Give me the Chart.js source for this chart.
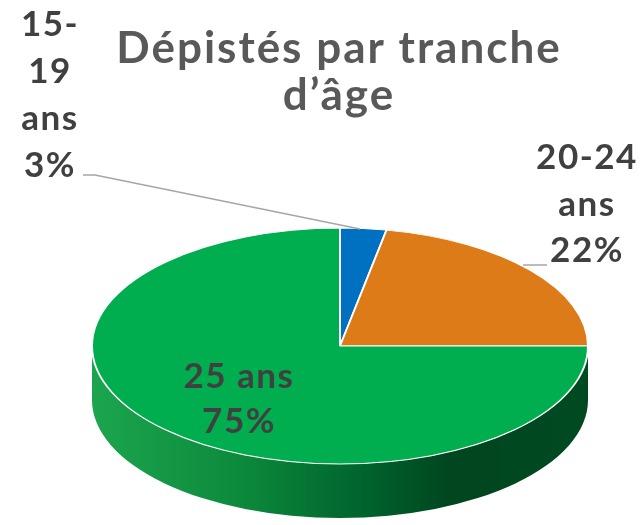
<!DOCTYPE html>
<html>
<head>
<meta charset="utf-8">
<script src="https://cdn.jsdelivr.net/npm/chart.js@4.4.1/dist/chart.umd.min.js"></script>
<style>
  html, body { margin: 0; padding: 0; background: #fff; }
  #wrap { width: 643px; height: 525px; position: relative; }
</style>
</head>
<body>
<div id="wrap"><canvas id="pie_chart" width="643" height="525"></canvas></div>
<script>
// data
var categories = ['15-19 ans', '20-24 ans', '25 ans'];
var values = [3, 22, 75];
var labelLines = [['15-', '19', 'ans'], ['20-24', 'ans'], ['25 ans']];
var sliceColors = ['#0070C0', '#DE7B19', '#00AD4F'];
var titleLines = ['Dépistés par tranche', 'd\u2019âge'];

// geometry of the tilted pie (screen px)
var PIE = { cx: 340, cy: 346, rx: 248, ry: 118, depth: 54 };

// where each label block sits (center x, first baseline y, line step)
var labelPos = [
    { x: 50, y: 36, step: 47 },
    { x: 587, y: 169, step: 46.5 },
    { x: 239, y: 388, step: 45 }
];

/*
 * Plugin that squashes the pie into an ellipse, draws the side wall
 * and writes the labels outside the slices
 */
var tiltPlugin = {
    id: 'tilt',
    beforeDatasetsDraw: function(chart) {
        const ctx = chart.ctx;
        const arc = chart.getDatasetMeta(0).data[0];
        // side wall
        ctx.save();
        const grad = ctx.createLinearGradient(PIE.cx - PIE.rx, 0, PIE.cx + PIE.rx, 0);
        grad.addColorStop(0, '#1ca54e');
        grad.addColorStop(0.3, '#0c8a3c');
        grad.addColorStop(0.55, '#00632d');
        grad.addColorStop(0.72, '#00461f');
        grad.addColorStop(1, '#004a21');
        ctx.beginPath();
        ctx.ellipse(PIE.cx, PIE.cy, PIE.rx, PIE.ry, 0, 0, Math.PI, false);
        ctx.ellipse(PIE.cx, PIE.cy + PIE.depth, PIE.rx, PIE.ry, 0, Math.PI, 0, true);
        ctx.closePath();
        ctx.fillStyle = grad;
        ctx.fill();
        ctx.restore();
        // squash the top
        ctx.save();
        ctx.translate(PIE.cx, PIE.cy);
        ctx.scale(PIE.rx / arc.outerRadius, PIE.ry / arc.outerRadius);
        ctx.translate(-arc.x, -arc.y);
    },
    afterDatasetsDraw: function(chart) {
        chart.ctx.restore();
    },
    afterDraw: function(chart) {
        const ctx = chart.ctx;
        ctx.save();
        // title
        ctx.fillStyle = '#595959';
        ctx.textAlign = 'center';
        ctx.textBaseline = 'alphabetic';
        ctx.font = 'bold 44px Lato';
        ctx.letterSpacing = '2px';
        ctx.fillText(titleLines[0], 339, 63);
        ctx.fillText(titleLines[1], 339, 110);

        // leader lines
        ctx.strokeStyle = '#a6a6a6';
        ctx.lineWidth = 1.5;
        ctx.beginPath();
        ctx.moveTo(83, 175);
        ctx.lineTo(95, 175);
        ctx.lineTo(360, 229);
        ctx.stroke();
        ctx.beginPath();
        ctx.moveTo(523, 265);
        ctx.lineTo(547, 265);
        ctx.stroke();

        // slice labels
        ctx.fillStyle = '#404040';
        ctx.font = 'bold 35px Lato';
        ctx.letterSpacing = '1.5px';
        const total = values.reduce(function(a, b) { return a + b; }, 0);
        for (let i = 0; i < values.length; i++) {
            const lines = labelLines[i].concat([Math.round(values[i] / total * 100) + '%']);
            const p = labelPos[i];
            for (let j = 0; j < lines.length; j++) {
                ctx.fillText(lines[j], p.x, p.y + j * p.step);
            }
        }
        ctx.restore();
    }
};

const data = {
    labels: categories,
    datasets: [{
        data: values,
        backgroundColor: sliceColors,
        borderColor: '#ffffff',
        borderWidth: 2,
    }]
};

const config = {
    type: 'pie',
    data: data,
    options: {
        responsive: false,
        animation: false,
        events: [],
        layout: { padding: 10 },
        plugins: {
            legend: { display: false },
            tooltip: { enabled: false },
            title: { display: false }
        }
    },
    plugins: [tiltPlugin]
};

const myChart = new Chart(document.getElementById('pie_chart'), config);
</script>
</body>
</html>
